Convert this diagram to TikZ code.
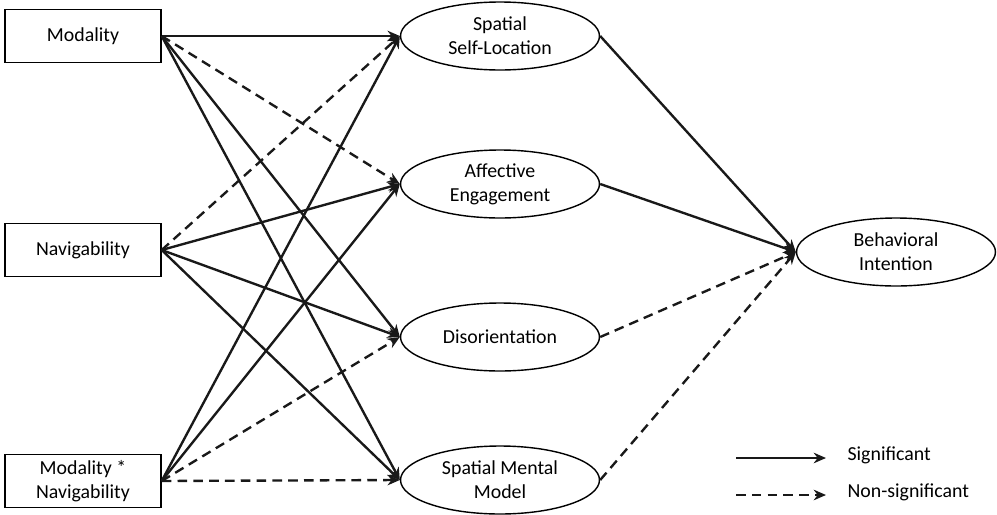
\documentclass[tikz,border=0pt]{standalone}
\usepackage{fontspec}
\setmainfont{Carlito}
\usetikzlibrary{arrows.meta, shapes.geometric}

\begin{document}
\begin{tikzpicture}[x=0.02cm, y=-0.02cm, thick]
  \tikzset{box/.style={draw, rectangle, minimum width=3.12cm, minimum height=1.06cm,
      align=center, inner sep=0pt, font=\fontsize{11.3}{13.5}\selectfont},
    oval/.style={draw, ellipse, minimum width=3.98cm, minimum height=1.36cm,
      align=center, inner sep=0pt, font=\fontsize{11.3}{13.5}\selectfont},
    sig/.style={-{Stealth[length=7pt, width=6pt]}, line width=1.35pt, draw=black!90},
    nonsig/.style={sig, dash pattern=on 5.5pt off 3.5pt},
    legtext/.style={anchor=west, font=\fontsize{11.3}{13.5}\selectfont}}

  \useasboundingbox (0,0) rectangle (997,514);

  % Inputs
  \node [box] (mod) at (83,36) {Modality};
  \node [box] (nav) at (83,250) {Navigability};
  \node [box] (inter) at (83,481) {Modality *\\Navigability};

  % Mediators
  \node [oval] (ssl) at (500,36) {Spatial\\Self-Location};
  \node [oval] (ae) at (500,184) {Affective\\Engagement};
  \node [oval] (dis) at (500,337) {Disorientation};
  \node [oval] (smm) at (500,480) {Spatial Mental\\Model};

  \node [oval] (bi) at (896,252) {Behavioral\\Intention};

  % Edges
  \draw [sig] (mod.east) -- (ssl.west);
  \draw [nonsig] (mod.east) -- (ae.west);
  \draw [sig] (mod.east) -- (dis.west);
  \draw [sig] (mod.east) -- (smm.west);

  \draw [nonsig] (nav.east) -- (ssl.west);
  \draw [sig] (nav.east) -- (ae.west);
  \draw [sig] (nav.east) -- (dis.west);
  \draw [sig] (nav.east) -- (smm.west);

  \draw [sig] (inter.east) -- (ssl.west);
  \draw [sig] (inter.east) -- (ae.west);
  \draw [nonsig] (inter.east) -- (dis.west);
  \draw [nonsig] (inter.east) -- (smm.west);

  \draw [sig] (ssl.east) -- (bi.west);
  \draw [sig] (ae.east) -- (bi.west);
  \draw [nonsig] (dis.east) -- (bi.west);
  \draw [nonsig] (smm.east) -- (bi.west);

  % Legend
  \coordinate (sigA) at (736,458);
  \coordinate (sigB) at (826,458);
  \node [legtext] (sigtxt) at (841,455) {Significant};
  \coordinate (nsA) at (736,495);
  \coordinate (nsB) at (826,495);
  \node [legtext] (nstxt) at (841,492) {Non-significant};
  \draw [sig] (sigA) -- (sigB);
  \draw [nonsig] (nsA) -- (nsB);

\end{tikzpicture}
\end{document}
